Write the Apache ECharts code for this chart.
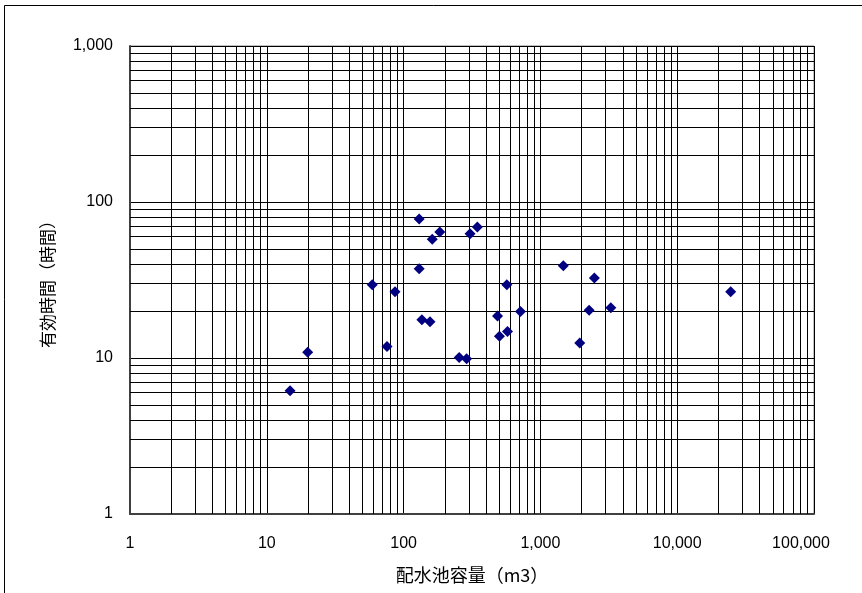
<!DOCTYPE html>
<html>
<head>
<meta charset="utf-8">
<script src="https://cdn.jsdelivr.net/npm/echarts@6/dist/echarts.min.js"></script>
<style>
html,body{margin:0;padding:0;background:#fff;}
#chart{width:862px;height:593px;}
</style>
</head>
<body>
<div id="chart"></div>
<script>
// Reservoir capacity (m3) and effective time (hours)
const capacity = [14.8, 19.9, 59.0, 75.6, 86.5, 130, 130, 136, 156, 162, 184, 255, 289, 306, 346, 486, 502, 575, 568, 715, 1470, 1940, 2270, 2480, 3270, 24600];
const hours    = [6.16, 10.9, 29.5, 11.85, 26.6, 77.8, 37.3, 17.6, 17.1, 57.6, 64.2, 10.07, 9.88, 62.6, 69.2, 18.6, 13.8, 14.8, 29.5, 19.9, 39.0, 12.46, 20.2, 32.6, 21.0, 26.6];
const xTicks = [1, 10, 100, 1000, 10000, 100000];
const yTicks = [1, 10, 100, 1000];
const minorSteps = [2, 3, 4, 5, 6, 7, 8, 9];
const xTitle = '配水池容量（m3）';
const yTitle = '有効時間（時間）';

const minorX = [];
xTicks.slice(0, -1).forEach(d => minorSteps.forEach(m => minorX.push(d * m)));
const minorY = [];
yTicks.slice(0, -1).forEach(d => minorSteps.forEach(m => minorY.push(d * m)));

const fmt = v => Number(v).toLocaleString('en-US');
const font = '"Liberation Sans", Arial, sans-serif';
const cjk = '"Noto Sans CJK JP", "Liberation Sans", sans-serif';
const xMax = xTicks[xTicks.length - 1];

const chart = echarts.init(document.getElementById('chart'), null, {renderer: 'canvas'});
chart.setOption({
  animation: false,
  backgroundColor: '#fff',
  graphic: [{
    type: 'rect', silent: true, z: 0,
    shape: {x: 4.5, y: 5.5, width: 900, height: 700},
    style: {fill: 'none', stroke: '#000', lineWidth: 1}
  }],
  grid: {left: 130, right: 48, top: 46, bottom: 79, show: true, borderColor: '#808080', borderWidth: 1},
  xAxis: {
    type: 'log', logBase: 10, min: xTicks[0], max: xMax,
    name: xTitle, nameLocation: 'middle', nameGap: 52,
    nameTextStyle: {fontFamily: cjk, fontSize: 18, color: '#000'},
    axisLine: {show: true, lineStyle: {color: '#404040', width: 2}},
    axisTick: {show: false},
    axisLabel: {
      formatter: v => (Math.abs(v - xMax) < 1e-6 ? '{last|' + fmt(v) + '}' : fmt(v)),
      fontFamily: font, fontSize: 16, color: '#000', margin: 22,
      rich: {last: {fontFamily: font, fontSize: 16, color: '#000', padding: [0, 26, 0, 0]}}
    },
    splitLine: {show: true, lineStyle: {color: '#000', width: 1}}
  },
  yAxis: {
    type: 'log', logBase: 10, min: yTicks[0], max: yTicks[yTicks.length - 1],
    name: yTitle, nameLocation: 'middle', nameGap: 74, nameRotate: 90,
    nameTextStyle: {fontFamily: cjk, fontSize: 17, color: '#000'},
    axisLine: {show: true, lineStyle: {color: '#404040', width: 2}},
    axisTick: {show: false},
    axisLabel: {formatter: fmt, fontFamily: font, fontSize: 16, color: '#000', margin: 17},
    splitLine: {show: true, lineStyle: {color: '#000', width: 1}}
  },
  series: [{
    type: 'scatter', data: [], z: 1, silent: true,
    markLine: {
      silent: true, symbol: ['none', 'none'], animation: false,
      label: {show: false},
      lineStyle: {color: '#000', width: 1, type: 'solid'},
      emphasis: {disabled: true},
      data: minorX.map(v => ({xAxis: v})).concat(minorY.map(v => ({yAxis: v})))
    }
  }, {
    type: 'scatter', z: 5,
    symbol: 'diamond', symbolSize: 11,
    itemStyle: {color: '#000080', opacity: 1},
    data: capacity.map((c, i) => [c, hours[i]])
  }]
});
</script>
</body>
</html>
